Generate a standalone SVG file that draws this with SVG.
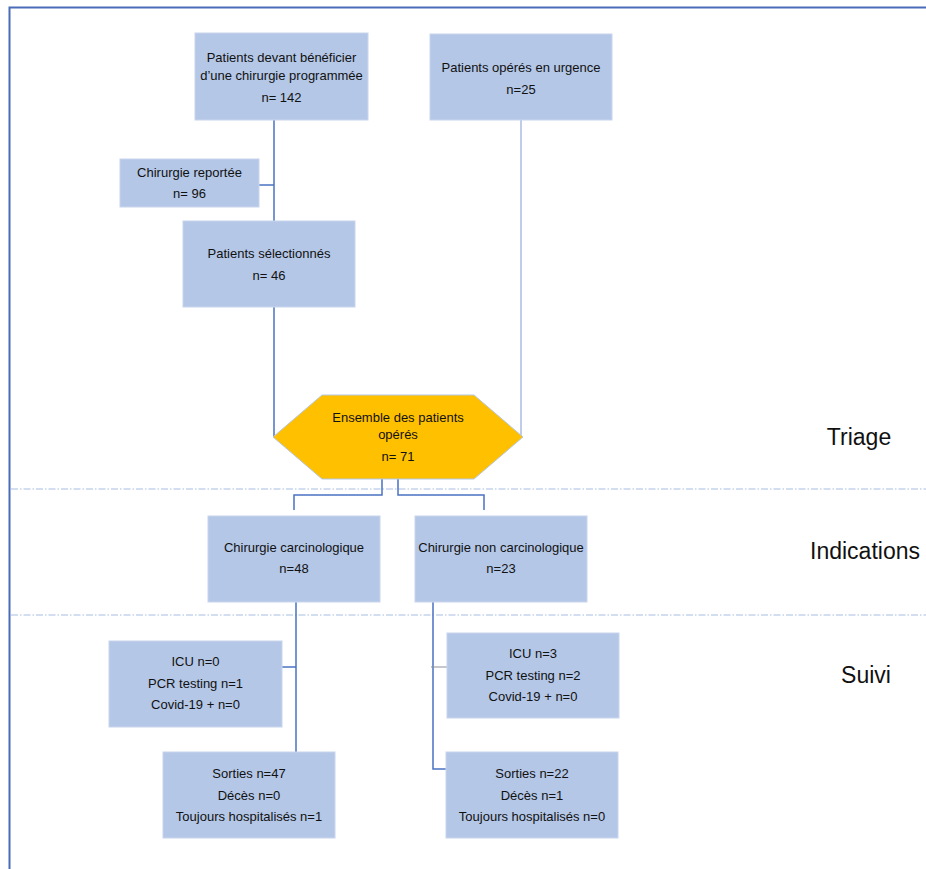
<svg xmlns="http://www.w3.org/2000/svg" width="926" height="869" viewBox="0 0 926 869">
<style>
.box{fill:#b4c7e7;stroke:#c8d5ee;stroke-width:1}
.hex{fill:#ffc000;stroke:#b4c7e7;stroke-width:1}
.t{font-family:"Liberation Sans",Arial,sans-serif;font-size:13px;fill:#111;text-anchor:middle}
.lab{font-family:"Liberation Sans",Arial,sans-serif;font-size:23px;fill:#111;text-anchor:middle}
.c{fill:none;stroke:#4a72c2;stroke-width:1.5}
.c2{fill:none;stroke:#7f9ad0;stroke-width:1}
.tick{fill:none;stroke:#8a8f99;stroke-width:1}
.sep{fill:none;stroke:#a9bde3;stroke-width:1.2;stroke-dasharray:7 2 1.5 2}
.frame{fill:none;stroke:#4a6cb8;stroke-width:2}
</style>
<rect width="926" height="869" fill="#ffffff"/>
<path class="frame" d="M9.5 869 V7.5 H926"/>
<g id="separators">
<line class="sep" x1="11" y1="489" x2="926" y2="489"/>
<line class="sep" x1="11" y1="615" x2="926" y2="615"/>
</g>
<g id="connectors">
<path class="c" d="M274 120 V437"/>
<path class="c" d="M259 185 H274"/>
<path class="c2" d="M521 120 V437"/>
<path class="c" d="M382 479 V495 H294 V510"/>
<path class="c" d="M398 479 V495 H484 V510"/>
<path class="c" d="M296 602 V752"/>
<path class="c" d="M282 667 H296"/>
<path class="c" d="M433 602 V769 H446"/>
<path class="tick" d="M431 667 H447"/>
</g>
<g id="n1"><rect class="box" x="195" y="33" width="173" height="87"/>
<text class="t" x="281.5" y="62">Patients devant bénéficier</text>
<text class="t" x="281.5" y="80">d’une chirurgie programmée</text>
<text class="t" x="281.5" y="102">n= 142</text></g>
<g id="n2"><rect class="box" x="430" y="34" width="182" height="86"/>
<text class="t" x="521" y="72">Patients opérés en urgence</text>
<text class="t" x="521" y="94">n=25</text></g>
<g id="n3"><rect class="box" x="120" y="159" width="139" height="48"/>
<text class="t" x="189.5" y="177">Chirurgie reportée</text>
<text class="t" x="189.5" y="198">n= 96</text></g>
<g id="n4"><rect class="box" x="183" y="221" width="172" height="86"/>
<text class="t" x="269" y="258">Patients sélectionnés</text>
<text class="t" x="269" y="280">n= 46</text></g>
<g id="n5"><polygon class="hex" points="273,437 322,395 474,395 523,437 474,479 322,479"/>
<text class="t" x="398" y="422">Ensemble des patients</text>
<text class="t" x="398" y="439">opérés</text>
<text class="t" x="398" y="461">n= 71</text></g>
<g id="n6"><rect class="box" x="208" y="516" width="172" height="86"/>
<text class="t" x="294" y="552">Chirurgie carcinologique</text>
<text class="t" x="294" y="573">n=48</text></g>
<g id="n7"><rect class="box" x="415" y="516" width="172" height="86"/>
<text class="t" x="501" y="552">Chirurgie non carcinologique</text>
<text class="t" x="501" y="573">n=23</text></g>
<g id="n8"><rect class="box" x="109" y="641" width="173" height="86"/>
<text class="t" x="195.5" y="666">ICU n=0</text>
<text class="t" x="195.5" y="688">PCR testing n=1</text>
<text class="t" x="195.5" y="709">Covid-19 + n=0</text></g>
<g id="n9"><rect class="box" x="163" y="752" width="172" height="86"/>
<text class="t" x="249" y="778">Sorties n=47</text>
<text class="t" x="249" y="800">Décès n=0</text>
<text class="t" x="249" y="821">Toujours hospitalisés n=1</text></g>
<g id="n10"><rect class="box" x="447" y="633" width="172" height="85"/>
<text class="t" x="533" y="658">ICU n=3</text>
<text class="t" x="533" y="680">PCR testing n=2</text>
<text class="t" x="533" y="701">Covid-19 + n=0</text></g>
<g id="n11"><rect class="box" x="446" y="752" width="172" height="86"/>
<text class="t" x="532" y="778">Sorties n=22</text>
<text class="t" x="532" y="800">Décès n=1</text>
<text class="t" x="532" y="821">Toujours hospitalisés n=0</text></g>
<g id="labels">
<text class="lab" x="859" y="445">Triage</text>
<text class="lab" x="865" y="559">Indications</text>
<text class="lab" x="866" y="683">Suivi</text>
</g>
</svg>
